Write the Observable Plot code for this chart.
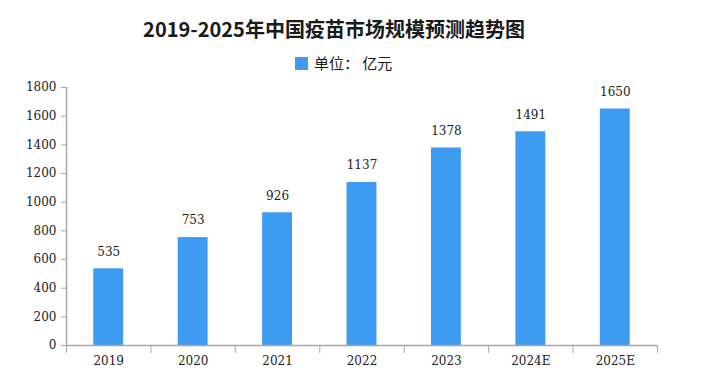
<!DOCTYPE html>
<html><head><meta charset="utf-8">
<script src="https://cdn.jsdelivr.net/npm/d3@7"></script>
<script src="https://cdn.jsdelivr.net/npm/@observablehq/plot@0.6"></script>
<style>
body{margin:0;background:#fff;width:701px;height:378px;overflow:hidden;font-family:"Noto Sans CJK SC",sans-serif;position:relative}
#title{position:absolute;left:0;width:668px;top:15px;text-align:center;font-size:20px;font-weight:bold;color:#1a1a1a;line-height:28px;white-space:nowrap}
#legend{position:absolute;left:295px;top:54px;font-size:15px;color:#1a1a1a;line-height:18px;display:flex;align-items:center;white-space:nowrap}
#legend span.sw{display:inline-block;width:13px;height:13px;background:#3d9bf1;margin-right:6px}
#chart{position:absolute;left:0;top:75px}
</style></head>
<body>
<div id="title">2019-2025年中国疫苗市场规模预测趋势图</div>
<div id="legend"><span class="sw"></span><span>单位： 亿元</span></div>
<div id="chart"></div>
<script>
const years = ["2019","2020","2021","2022","2023","2024E","2025E"];
const values = [535, 753, 926, 1137, 1378, 1491, 1650];
const yTicks = [0,200,400,600,800,1000,1200,1400,1600,1800];

const data = years.map((y, i) => ({i, year: y, value: values[i]}));
const color = "#3d9bf1";
const axisColor = "#a6a6a6";
const font = "DejaVu Serif";

const plot = Plot.plot({
  width: 701,
  height: 303,
  marginTop: 12,
  marginBottom: 33,
  marginLeft: 66,
  marginRight: 44,
  style: {fontFamily: font, fontSize: "12px", color: "#222", background: "transparent"},
  x: {type: "linear", domain: [0, years.length], axis: null},
  y: {domain: [0, 1800], axis: null},
  marks: [
    Plot.rectY(data, {x1: d => d.i + 0.323, x2: d => d.i + 0.677, y: "value", fill: color}),
    Plot.ruleX([0], {y1: 0, y2: 1800, stroke: axisColor, strokeWidth: 1.5}),
    Plot.ruleY([0], {stroke: axisColor, strokeWidth: 1.5}),
    Plot.axisY({ticks: yTicks, tickSize: 5, tickPadding: 5, tickFormat: d => String(d), stroke: axisColor, fill: "#222", label: null}),
    Plot.axisX({ticks: d3.range(years.length + 1), tickSize: 8, tickFormat: () => "", stroke: axisColor, label: null}),
    Plot.axisX({ticks: years.map((_, i) => i + 0.5), tickSize: 0, tickPadding: 11, tickFormat: t => years[Math.round(t - 0.5)], fill: "#222", label: null}),
    Plot.text(data, {x: d => d.i + 0.5, y: "value", text: d => String(d.value), dy: -17, fontSize: 12, fill: "#222"})
  ]
});
document.getElementById("chart").appendChild(plot);
</script>
</body></html>
